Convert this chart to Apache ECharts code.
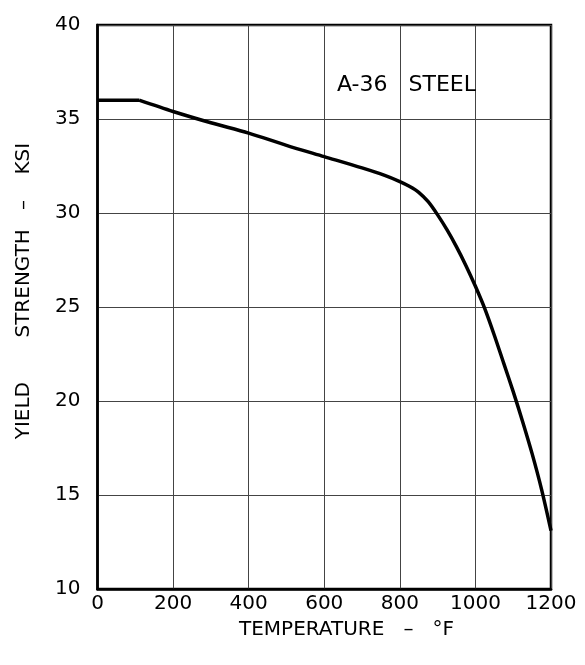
<!DOCTYPE html>
<html>
<head>
<meta charset="utf-8">
<script src="https://cdn.jsdelivr.net/npm/echarts@6/dist/echarts.min.js"></script>
<style>
  html, body { margin: 0; padding: 0; background: #fff; }
  #chart { width: 585px; height: 665px; }
</style>
</head>
<body>
<div id="chart"></div>
<script>
// flat part of the curve (deg F, ksi)
const flatTemps = [0, 110]
const flatKsi = [36, 36]
// falling part
const temps = [110, 200, 300, 400, 500, 600, 700, 760, 800, 825, 850, 875, 900, 925, 950, 975, 1000, 1025, 1050, 1075, 1100, 1125, 1150, 1175, 1200]
const ksi = [36, 35.4, 34.8, 34.25, 33.6, 33.0, 32.4, 32.0, 31.67, 31.42, 31.1, 30.6, 29.9, 29.1, 28.2, 27.2, 26.1, 24.9, 23.5, 22.0, 20.5, 18.9, 17.2, 15.3, 13.1]
const xTicks = [0, 200, 400, 600, 800, 1000, 1200]
const yTicks = [10, 15, 20, 25, 30, 35, 40]

const font = 'DejaVu Sans'

const pairs = (xs, ys) => xs.map((x, i) => [x, ys[i]])

const chart = echarts.init(document.getElementById('chart'))
chart.setOption({
  animation: false,
  title: {
    text: 'A-36   STEEL',
    left: 337,
    top: 74,
    padding: 0,
    textStyle: { fontFamily: font, fontSize: 22, fontWeight: 'normal', color: '#000' }
  },
  grid: {
    left: 97.5,
    right: 34,
    top: 25,
    bottom: 76,
    show: true,
    borderColor: '#000',
    borderWidth: 2.5
  },
  xAxis: {
    type: 'value',
    min: xTicks[0],
    max: xTicks[xTicks.length - 1],
    interval: 200,
    name: '       TEMPERATURE   –   °F',
    nameLocation: 'middle',
    nameGap: 31,
    nameTextStyle: { fontFamily: font, fontSize: 20, color: '#000' },
    axisLine: { show: true, lineStyle: { color: '#000', width: 2.5 } },
    axisTick: { show: false },
    axisLabel: {
      fontFamily: font, fontSize: 20, color: '#000', margin: 5,
      formatter: v => String(v)
    },
    splitLine: { show: true, lineStyle: { color: '#444', width: 1 } }
  },
  yAxis: {
    type: 'value',
    min: yTicks[0],
    max: yTicks[yTicks.length - 1],
    interval: 5,
    name: '     YIELD       STRENGTH   –    KSI',
    nameLocation: 'middle',
    nameGap: 64,
    nameRotate: 90,
    nameTextStyle: { fontFamily: font, fontSize: 20, color: '#000' },
    axisLine: { show: true, lineStyle: { color: '#000', width: 2.5 } },
    axisTick: { show: false },
    axisLabel: { fontFamily: font, fontSize: 20, color: '#000', margin: 17 },
    splitLine: { show: true, lineStyle: { color: '#444', width: 1 } }
  },
  series: [{
    type: 'line',
    data: pairs(flatTemps, flatKsi),
    showSymbol: false,
    lineStyle: { color: '#000', width: 3.5 }
  }, {
    type: 'line',
    data: pairs(temps, ksi),
    showSymbol: false,
    smooth: 0.3,
    lineStyle: { color: '#000', width: 3.5, join: 'round' }
  }]
})
</script>
</body>
</html>
